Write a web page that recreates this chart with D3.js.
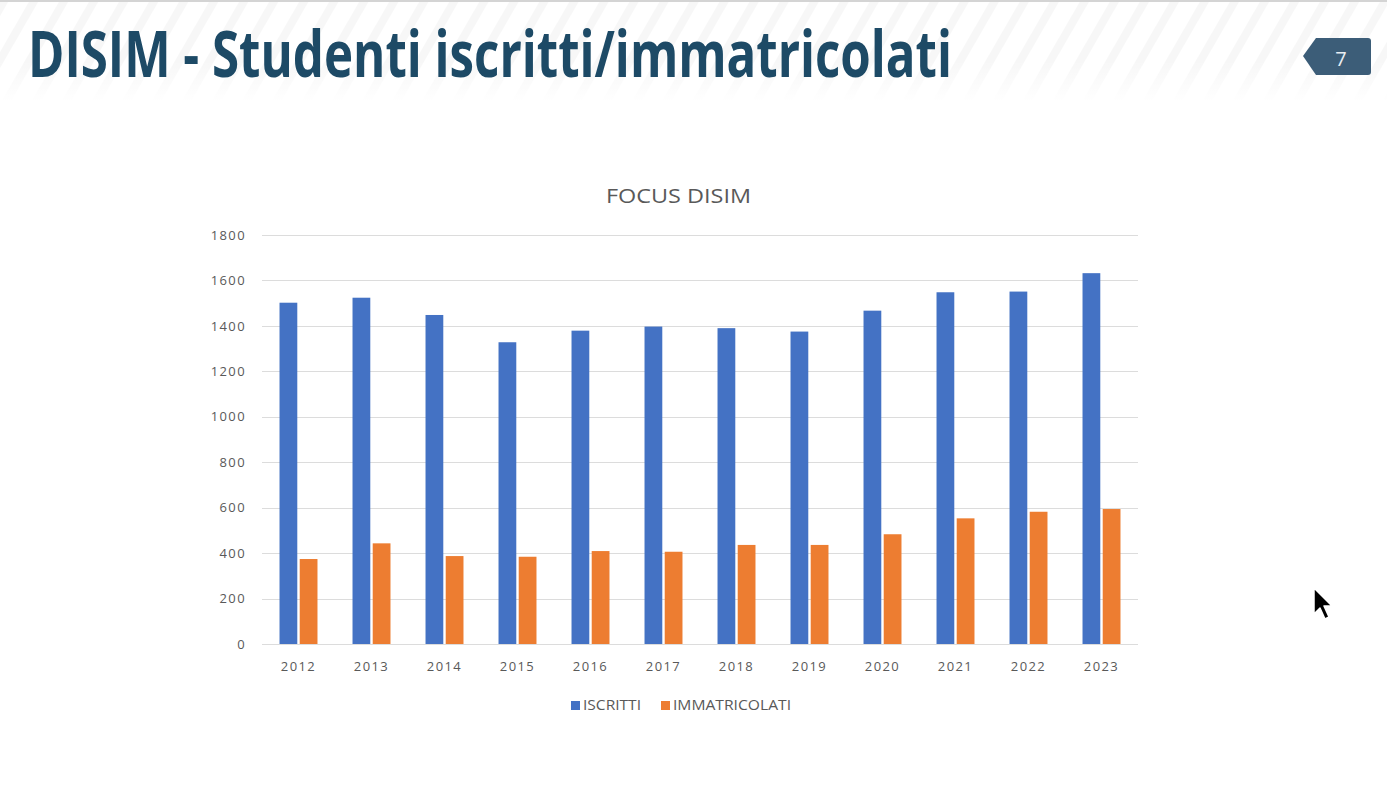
<!DOCTYPE html>
<html>
<head>
  <meta charset="utf-8">
  <title>DISIM - Studenti iscritti/immatricolati</title>
  <script src="https://d3js.org/d3.v7.min.js"></script>
  <style>
    body {
      margin: 0;
      background: #ffffff;
      font-family: "Open Sans", Arial, sans-serif;
    }
    svg { display: block; }
    .axis text {
      font-family: "Open Sans", Arial, sans-serif;
      font-size: 13px;
      letter-spacing: 1.4px;
      fill: #595959;
    }
    .axis path, .axis line { stroke: none; }
    .grid line { stroke: #dcdcdc; stroke-width: 1; }
  </style>
</head>
<body>
  <div id="slide"></div>
  <script>
    // data
    const years = ['2012', '2013', '2014', '2015', '2016', '2017', '2018', '2019', '2020', '2021', '2022', '2023'];
    const iscritti = [1502, 1524, 1448, 1328, 1379, 1397, 1390, 1375, 1467, 1548, 1551, 1632];
    const immatricolati = [374, 443, 387, 384, 409, 406, 436, 436, 483, 553, 582, 594];
    const seriesNames = ['ISCRITTI', 'IMMATRICOLATI'];
    const seriesColors = ['#4472C4', '#ED7D31'];
    const yTicks = [0, 200, 400, 600, 800, 1000, 1200, 1400, 1600, 1800];

    const W = 1387, H = 787;
    const margin = { top: 235, right: 249, bottom: 143, left: 262 };
    const innerW = W - margin.left - margin.right;
    const innerH = H - margin.top - margin.bottom;

    const svg = d3.select('#slide').append('svg')
      .attr('width', W)
      .attr('height', H);

    // faint diagonal stripes behind the header
    const defs = svg.append('defs');
    const pat = defs.append('pattern')
      .attr('id', 'stripes')
      .attr('width', 26)
      .attr('height', 26)
      .attr('patternUnits', 'userSpaceOnUse')
      .attr('patternTransform', 'rotate(30)');
    pat.append('rect').attr('width', 26).attr('height', 26).attr('fill', '#ffffff');
    pat.append('rect').attr('width', 8).attr('height', 26).attr('fill', '#f7f7f7');

    svg.append('rect').attr('width', W).attr('height', H).attr('fill', '#ffffff');
    svg.append('rect').attr('width', W).attr('height', 100).attr('fill', 'url(#stripes)');
    const fade = defs.append('linearGradient').attr('id', 'fade').attr('x1', 0).attr('x2', 0).attr('y1', 0).attr('y2', 1);
    fade.append('stop').attr('offset', '0%').attr('stop-color', '#fff').attr('stop-opacity', 0);
    fade.append('stop').attr('offset', '100%').attr('stop-color', '#fff').attr('stop-opacity', 1);
    svg.append('rect').attr('y', 60).attr('width', W).attr('height', 42).attr('fill', 'url(#fade)');
    svg.append('rect').attr('width', W).attr('height', 2).attr('fill', '#d4d4d4');

    // slide title
    svg.append('text')
      .attr('x', 28)
      .attr('y', 77)
      .attr('textLength', 924)
      .attr('lengthAdjust', 'spacingAndGlyphs')
      .style('font-family', '"Open Sans", sans-serif')
      .style('font-weight', 700)
      .style('font-size', '64px')
      .style('fill', '#1d4a66')
      .text('DISIM - Studenti iscritti/immatricolati');

    // page number badge
    svg.append('path')
      .attr('d', 'M1303,56 L1316,38 L1368,38 Q1371,38 1371,41 L1371,72 Q1371,75 1368,75 L1316,75 Z')
      .attr('fill', '#3c5d78');
    svg.append('text')
      .attr('x', 1341)
      .attr('y', 66)
      .attr('text-anchor', 'middle')
      .style('font-family', '"Open Sans", sans-serif')
      .style('font-size', '20px')
      .style('fill', '#e8eef3')
      .text('7');

    // chart title
    svg.append('text')
      .attr('x', 606)
      .attr('y', 203)
      .attr('textLength', 145)
      .attr('lengthAdjust', 'spacingAndGlyphs')
      .style('font-family', '"Open Sans", sans-serif')
      .style('font-size', '20px')
      .style('fill', '#595959')
      .text('FOCUS DISIM');

    const g = svg.append('g')
      .attr('transform', `translate(${margin.left},${margin.top})`);

    const x0 = d3.scaleBand()
      .domain(years)
      .range([0, innerW])
      .paddingInner(0.48)
      .paddingOuter(0.24);

    const x1 = d3.scaleBand()
      .domain(seriesNames)
      .range([0, x0.bandwidth()])
      .paddingInner(0.12);

    const y = d3.scaleLinear()
      .domain([0, 1800])
      .range([innerH, 0]);

    // gridlines
    g.append('g')
      .attr('class', 'grid')
      .selectAll('line')
      .data(yTicks)
      .join('line')
      .attr('x1', 0)
      .attr('x2', innerW)
      .attr('y1', d => Math.round(y(d)) + 0.5)
      .attr('y2', d => Math.round(y(d)) + 0.5);

    // axes
    g.append('g')
      .attr('class', 'axis')
      .call(d3.axisLeft(y).tickValues(yTicks).tickFormat(d3.format('d')).tickSize(0).tickPadding(16));

    g.append('g')
      .attr('class', 'axis')
      .attr('transform', `translate(0,${innerH})`)
      .call(d3.axisBottom(x0).tickSize(0).tickPadding(18));

    // bars
    const rows = years.map((yr, i) => ({ year: yr, values: [iscritti[i], immatricolati[i]] }));

    const groups = g.append('g')
      .selectAll('g')
      .data(rows)
      .join('g')
      .attr('transform', d => `translate(${x0(d.year)},0)`);

    groups.selectAll('rect')
      .data(d => d.values.map((v, k) => ({ key: seriesNames[k], value: v, color: seriesColors[k] })))
      .join('rect')
      .attr('x', d => x1(d.key))
      .attr('y', d => y(d.value))
      .attr('width', x1.bandwidth())
      .attr('height', d => innerH - y(d.value))
      .attr('fill', d => d.color);

    // legend
    const legend = svg.append('g')
      .attr('transform', 'translate(571,705)');
    const legendX = [0, 90];
    const legendW = [58, 118];
    seriesNames.forEach((name, k) => {
      const item = legend.append('g').attr('transform', `translate(${legendX[k]},0)`);
      item.append('rect')
        .attr('x', 0)
        .attr('y', -4)
        .attr('width', 9)
        .attr('height', 9)
        .attr('fill', seriesColors[k]);
      item.append('text')
        .attr('x', 12)
        .attr('y', 0)
        .attr('dy', '0.35em')
        .attr('textLength', legendW[k])
        .attr('lengthAdjust', 'spacingAndGlyphs')
        .style('font-family', '"Open Sans", sans-serif')
        .style('font-size', '14px')
        .style('fill', '#595959')
        .text(name);
    });

    // mouse pointer visible on the slide
    svg.append('path')
      .attr('d', 'M1314,588 L1314,614 L1320,608 L1325,619 L1329,617 L1324,606 L1332,606 Z')
      .attr('fill', '#000')
      .attr('stroke', '#fff')
      .attr('stroke-width', 1.5)
      .attr('stroke-linejoin', 'round');
  </script>
</body>
</html>
